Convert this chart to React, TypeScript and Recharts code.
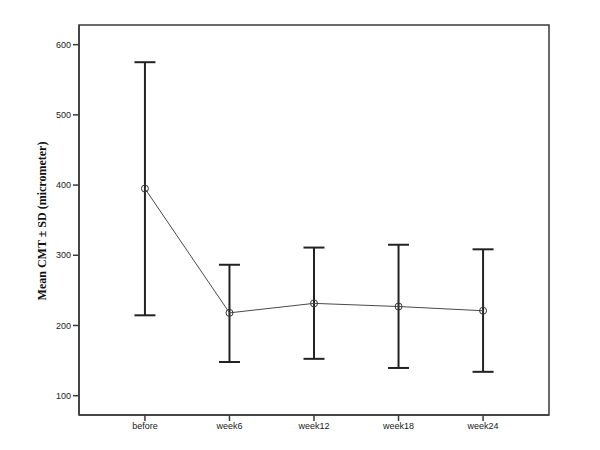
import React from 'react';
import { LineChart, Line, XAxis, YAxis, ErrorBar, ReferenceArea } from 'recharts';

const categories = ['before', 'week6', 'week12', 'week18', 'week24'];
const means = [395, 218, 231.5, 227, 221];
const upper = [575, 286.5, 311, 315, 308.5];
const lower = [214.5, 148, 152.5, 139.5, 134];
const yTicks = [100, 200, 300, 400, 500, 600];
const yDomain = [72.5, 628];
const xDomain = [-0.78, categories.length - 1 + 0.78];

const data = categories.map((name, i) => ({
  idx: i,
  name,
  mean: means[i],
  err: [means[i] - lower[i], upper[i] - means[i]],
}));

const frame = '#3a3a3a';
const tickStyle = { fontFamily: '"Liberation Sans", Arial, sans-serif', fontSize: 9, fill: '#222' };

const YLabel = (props: any) => {
  const vb = props.viewBox || {};
  const cx = (vb.x ?? 0) + 42;
  const cy = (vb.y ?? 0) + (vb.height ?? 0) / 2 + 1;
  return (
    <text
      x={cx}
      y={cy}
      transform={`rotate(-90, ${cx}, ${cy})`}
      textAnchor="middle"
      dominantBaseline="central"
      style={{ fontFamily: '"Liberation Serif", "Times New Roman", serif', fontSize: 12, fontWeight: 'bold', fill: '#111' }}
    >
      Mean CMT ± SD (micrometer)
    </text>
  );
};

export default function App() {
  return (
    <div style={{ position: 'absolute', left: 0, top: 0, width: 600, height: 450, background: '#fff' }}>
      <LineChart width={600} height={450} data={data} margin={{ top: 25, right: 51, bottom: 0, left: 0 }}>
        <XAxis
          dataKey="idx"
          xAxisId="bottom"
          type="number"
          domain={xDomain}
          ticks={categories.map((_, i) => i)}
          tickFormatter={(v: number) => categories[v] ?? ''}
          height={35}
          tick={tickStyle}
          tickSize={6}
          tickMargin={2}
          axisLine={{ stroke: frame, strokeWidth: 1.5 }}
          tickLine={{ stroke: frame, strokeWidth: 1.5 }}
          interval={0}
        />
        <YAxis
          yAxisId="left"
          width={79}
          domain={yDomain}
          ticks={yTicks}
          type="number"
          tick={tickStyle}
          tickSize={6}
          tickMargin={2}
          axisLine={{ stroke: frame, strokeWidth: 1.5 }}
          tickLine={{ stroke: frame, strokeWidth: 1.5 }}
          label={<YLabel />}
        />
        <ReferenceArea
          xAxisId="bottom"
          yAxisId="left"
          x1={xDomain[0]}
          x2={xDomain[1]}
          y1={yDomain[0]}
          y2={yDomain[1]}
          fill="none"
          fillOpacity={0}
          stroke={frame}
          strokeWidth={1.5}
          ifOverflow="visible"
        />
        <Line
          xAxisId="bottom"
          yAxisId="left"
          dataKey="mean"
          stroke="#4a4a4a"
          strokeWidth={1}
          dot={{ r: 3.5, stroke: '#333', strokeWidth: 1, fill: 'none' }}
          activeDot={false}
          isAnimationActive={false}
        >
          <ErrorBar dataKey="err" width={10.5} stroke="#222" strokeWidth={2} direction="y" />
        </Line>
      </LineChart>
    </div>
  );
}
